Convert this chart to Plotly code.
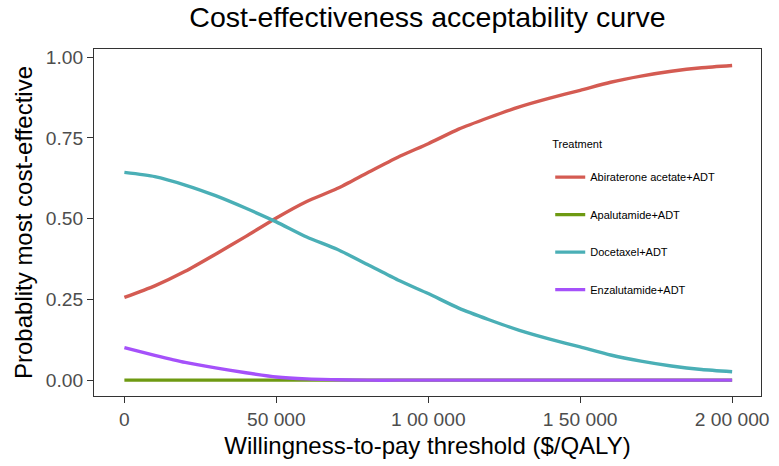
import plotly.graph_objects as go

wtp = [0, 10000, 20000, 30000, 40000, 50000, 60000, 70000, 80000, 90000, 100000,
       110000, 120000, 130000, 140000, 150000, 160000, 170000, 180000, 190000, 200000]

abiraterone = [0.256, 0.292, 0.337, 0.390, 0.445, 0.502, 0.553, 0.593, 0.642, 0.690, 0.732,
               0.777, 0.813, 0.846, 0.873, 0.897, 0.922, 0.941, 0.956, 0.967, 0.974]
apalutamide = [0.0] * 21
docetaxel = [0.643, 0.630, 0.604, 0.571, 0.532, 0.490, 0.443, 0.405, 0.358, 0.310, 0.268,
             0.223, 0.187, 0.154, 0.127, 0.103, 0.078, 0.059, 0.044, 0.033, 0.026]
enzalutamide = [0.101, 0.077, 0.055, 0.038, 0.023, 0.010, 0.004, 0.0015, 0.0, 0.0, 0.0,
                0.0, 0.0, 0.0, 0.0, 0.0, 0.0, 0.0, 0.0, 0.0, 0.0]

series_names = ["Abiraterone acetate+ADT", "Apalutamide+ADT", "Docetaxel+ADT", "Enzalutamide+ADT"]
series_values = [abiraterone, apalutamide, docetaxel, enzalutamide]
series_colors = ["#D45B52", "#6E9A12", "#4AAFB6", "#A551FA"]

x_tickvals = [0, 50000, 100000, 150000, 200000]
x_ticktext = ["0", "50 000", "1 00 000", "1 50 000", "2 00 000"]
y_tickvals = [0, 0.25, 0.5, 0.75, 1.0]
y_ticktext = ["0.00", "0.25", "0.50", "0.75", "1.00"]

FONT = "Liberation Sans, Arial, sans-serif"

fig = go.Figure()
for name, vals, col in zip(series_names, series_values, series_colors):
    fig.add_trace(go.Scatter(x=wtp, y=vals, mode="lines", name=name,
                             legendgroup=name,
                             line=dict(color=col, width=3.4, shape="spline", smoothing=0.6)))

fig.update_layout(
    width=779, height=466,
    margin=dict(l=94, r=10, t=49, b=70),
    paper_bgcolor="white", plot_bgcolor="white",
    font=dict(family=FONT, color="black"),
    title=dict(text="Cost-effectiveness acceptability curve",
               font=dict(size=28.5, color="black", family=FONT),
               x=0.5, xref="paper", xanchor="center",
               y=1 - 17 / 466, yref="container", yanchor="middle"),
    xaxis=dict(range=[-10000, 209500], tickvals=x_tickvals, ticktext=x_ticktext,
               showgrid=False, zeroline=False, showline=True, mirror=True,
               linecolor="#333333", linewidth=1,
               ticks="outside", ticklen=6, tickcolor="#333333", tickwidth=1,
               tickfont=dict(size=19.2, color="#4D4D4D"),
               title=dict(text="Willingness-to-pay threshold ($/QALY)",
                          font=dict(size=24, color="black"), standoff=8)),
    yaxis=dict(range=[-0.049, 1.025], tickvals=y_tickvals, ticktext=y_ticktext,
               showgrid=False, zeroline=False, showline=True, mirror=True,
               linecolor="#333333", linewidth=1,
               ticks="outside", ticklen=6, tickcolor="#333333", tickwidth=1,
               tickfont=dict(size=19.2, color="#4D4D4D"),
               title=dict(text="Probablity most cost-effective",
                          font=dict(size=24, color="black"), standoff=6)),
    legend=dict(title=dict(text="Treatment<br> ", font=dict(size=11, color="black")),
                font=dict(size=11, color="black"),
                x=0.684, y=0.755, xanchor="left", yanchor="top",
                bgcolor="rgba(0,0,0,0)", tracegroupgap=18.5, itemwidth=30),
)

fig.write_html("out.html")
